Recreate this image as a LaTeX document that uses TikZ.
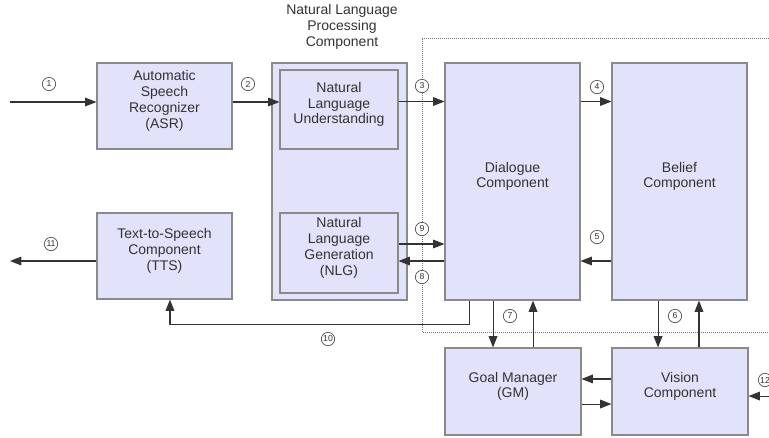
\documentclass[tikz,border=0pt]{standalone}
\usepackage{fontspec}
\setmainfont{Liberation Sans}
\usetikzlibrary{arrows.meta,fit,calc}
\definecolor{boxfill}{HTML}{E2E2FA}
\definecolor{boxline}{HTML}{8A8A8A}
\definecolor{txt}{HTML}{333333}
\tikzset{
  box/.style={draw=boxline, fill=boxfill, line width=0.8pt, inner sep=0pt, align=center, text=txt, font=\fontsize{10.5}{11.8}\selectfont},
  arr/.style={draw=black!80, line width=0.8pt, -{Triangle[length=8.5pt,width=6.5pt]}},
  num/.style={circle, draw=black!70, line width=0.5pt, fill=white, minimum size=10pt, inner sep=0pt, text=txt, font=\fontsize{6.5}{7}\selectfont},
  dotbox/.style={draw=black!55, line width=0.5pt, densely dotted}
}
\begin{document}
\begin{tikzpicture}[x=0.75pt,y=-0.75pt]
\useasboundingbox (0,0) rectangle (769,437);
% dotted frame
\draw[dotbox] (769,38) -- (422,38) -- (422,332) -- (769,332);
% boxes
\node[box, fit={(97,63)(232,149)}] (asr) {Automatic\\Speech\\Recognizer\\(ASR)};
\node[box, fit={(97,213)(232,299)}] (tts) {Text-to-Speech\\Component\\(TTS)};
\node[box, fit={(272,63)(407,300)}] (nlp) {};
\node[box, fit={(280,70)(398,149)}] (nlu) {Natural\\Language\\Understanding};
\node[box, fit={(280,213)(398,293)}] (nlg) {Natural\\Language\\Generation\\(NLG)};
\node[align=center, text=txt, font=\fontsize{10.5}{11.8}\selectfont] (nlpt) at (342,27) {Natural Language\\Processing\\Component};
\node[box, fit={(445,63)(580,300)}] (dlg) {Dialogue\\Component};
\node[box, fit={(612,63)(747,300)}] (bel) {Belief\\Component};
\node[box, fit={(445,348)(581,435)}] (gm) {Goal Manager\\(GM)};
\node[box, fit={(612,348)(748,435)}] (vis) {Vision\\Component};
% free ends
\coordinate (in1) at (10,102);
\coordinate (out11) at (10,261);
\coordinate (in12) at (772,396);
% helper coordinates
\coordinate (y3) at ([yshift=6pt]nlu.east);
\coordinate (y8) at ([yshift=-6pt]nlg.east);
\coordinate (y9) at ([yshift=6.75pt]nlg.east);
\coordinate (c10) at ([xshift=-32.6pt]dlg.south);
\coordinate (c7d) at ([xshift=-14.6pt]dlg.south);
\coordinate (c7u) at ([xshift=15.4pt]dlg.south);
\coordinate (c6d) at ([xshift=-16.1pt]bel.south);
\coordinate (c6u) at ([xshift=14.6pt]bel.south);
\coordinate (gv1) at ([yshift=9.4pt]vis.west);
\coordinate (gv2) at ([yshift=-9.4pt]gm.east);
\coordinate (v12) at ([yshift=-3.4pt]vis.east);
% connectors
\draw[arr] (in1) -- (in1 -| asr.west);
\draw[arr] (in1 -| asr.east) -- (in1 -| nlu.west);
\draw[arr] (y3) -- (y3 -| dlg.west);
\draw[arr] (y3 -| dlg.east) -- (y3 -| bel.west);
\draw[arr] (y8 -| bel.west) -- (y8 -| dlg.east);
\draw[arr] (y8 -| dlg.west) -- (y8);
\draw[arr] (y9) -- (y9 -| dlg.west);
\draw[arr] (c10) -- ++(0,24) -| ([xshift=4.1pt]tts.south);
\draw[arr] (out11 -| tts.west) -- (out11);
\draw[arr] (c7d) -- (c7d |- gm.north);
\draw[arr] (c7u |- gm.north) -- (c7u);
\draw[arr] (c6d) -- (c6d |- vis.north);
\draw[arr] (c6u |- vis.north) -- (c6u);
\draw[arr] (gv1) -- (gv1 -| gm.east);
\draw[arr] (gv2) -- (gv2 -| vis.west);
\draw[arr] (in12 |- v12) -- (v12);
% numbers
\node[num] (n1) at (49,84) {1};
\node[num] (n2) at (248,84) {2};
\node[num] (n3) at (422,86) {3};
\node[num] (n4) at (597,87) {4};
\node[num] (n5) at (597,237) {5};
\node[num] (n6) at (675,316) {6};
\node[num] (n7) at (510,316) {7};
\node[num] (n8) at (422,277) {8};
\node[num] (n9) at (422,229) {9};
\node[num] (n10) at (328,339) {10};
\node[num] (n11) at (51,244) {11};
\node[num] (n12) at (765,380) {12};
\end{tikzpicture}
\end{document}
